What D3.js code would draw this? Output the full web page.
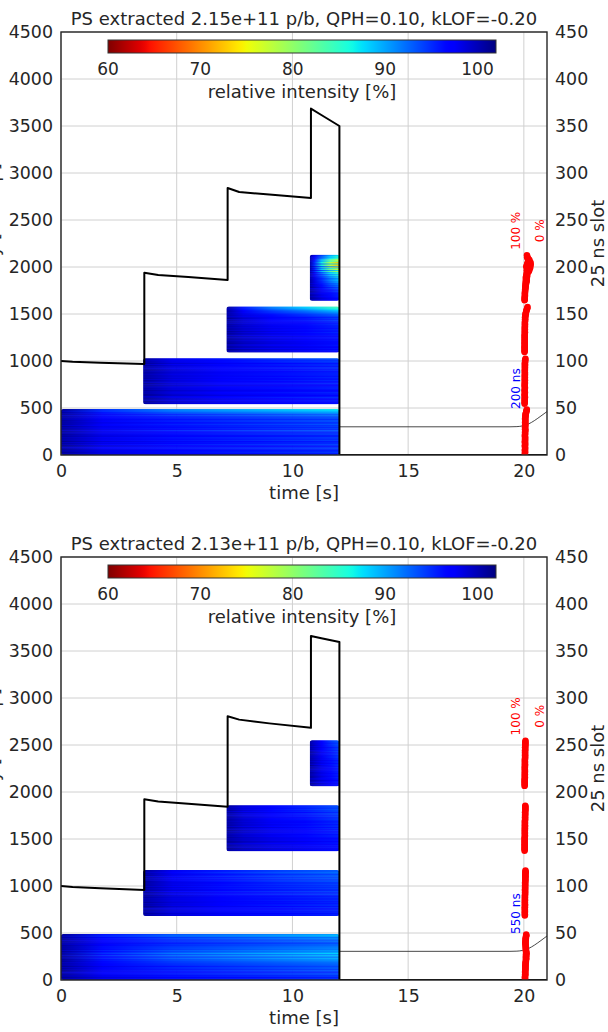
<!DOCTYPE html>
<html>
<head>
<meta charset="utf-8">
<script src="https://cdn.jsdelivr.net/npm/d3@7"></script>
<style>
  body { margin: 0; background: #fff; }
  text { font-family: "DejaVu Sans", sans-serif; fill: #262626; }
</style>
</head>
<body>
<svg id="fig" width="608" height="1032"></svg>
<script>
// ---- tick labels ----
const timeTicks = [0, 5, 10, 15, 20];
const intensityTicks = [0, 500, 1000, 1500, 2000, 2500, 3000, 3500, 4000, 4500];
const slotTicks = [0, 50, 100, 150, 200, 250, 300, 350, 400, 450];
const colorTicks = [60, 70, 80, 90, 100];

// ---- titles / annotations ----
const titles = [
  "PS extracted 2.15e+11 p/b, QPH=0.10, kLOF=-0.20",
  "PS extracted 2.13e+11 p/b, QPH=0.10, kLOF=-0.20"
];
const gapLabels = ["200 ns", "550 ns"];

// ---- batch timing (s) ----
const batchStartTime = [0, 3.55, 7.15, 10.75];
const extractionTime = 12.03;
// loss profile of each batch: fraction of the final loss reached at each time knot
const profileKnots = [0, 0.15, 0.4, 0.7, 1];
const batchLossProfile = [
  [0, 0.45, 0.7, 0.85, 1],
  [0, 0.4, 0.65, 0.85, 1],
  [0, 0.3, 0.55, 0.75, 1],
  [0, 0.2, 0.5, 0.8, 1]
];
// bunch-to-bunch spread at injection (%)
const rowTexture = [0.8,-0.5,0.3,1.1,-0.9,0.2,0.6,-0.3,-1.1,0.5,
  0.9,-0.2,0.4,-0.8,1.0,0.1,-0.6,0.7,-1.0,0.3,
  0.6,-0.4,1.2,-0.7,0.0,0.8,-0.9,0.4,0.2,-0.5,
  1.0,-1.1,0.5,-0.2,0.7,-0.6,0.9,0.1,-0.8,0.3,
  -0.3,0.6,-1.0,0.8,-0.1,0.4,-0.7,0.2,0.5];
const injectionLevel = 100.6;

// ---- first 25 ns slot of each batch ----
const topFirstSlot = [0, 54, 109, 164];
const botFirstSlot = [0, 68, 137, 206];

// ---- relative intensity at extraction per bunch (%) ----
const topB1 = [95,96,95,94,96,95,95,94,95,96, 95,94,95,95,96,94,95,95,94,95,
  96,95,94,95,95,94,93,95,94,95, 94,95,93,94,95,94,93,94,95,93,
  94,93,92,93,91,90,89,88,87];
const topB2 = [97,96,97,96,96,97,96,95,96,97, 96,96,95,96,97,96,96,95,96,96,
  97,96,95,96,96,95,96,96,95,96, 96,95,96,95,96,96,95,96,95,95,
  96,95,95,96,95,94,95,94,93];
const topB3 = [97,97,96,97,96,97,97,96,96,97, 96,97,96,96,97,96,96,97,96,96,
  96,95,96,96,95,96,96,95,96,95, 95,96,95,95,94,95,94,95,94,93,
  93,92,91,90,89,88,86,85,84];
const topB4 = [97,96,97,96,96,95,96,95,96,95, 94,95,94,93,94,92,93,91,
  93,89,92,87,91,88,92,86,90,85,89,84,86,
  78,88,75,84,72,90,74,70,86,71,73,82,76,
  80,84,86,85,87];
const botB1 = [95,94,96,95,94,95,93,94,95,94, 93,94,93,93,94,93,93,92,93,91,
  92,90,91,89,92,90,89,91,88,90, 91,90,92,91,92,91,93,92,93,94,
  93,92,93,92,91,92,90,89,90];
const botB2 = [96,95,96,96,95,96,95,96,96,95, 96,95,95,96,95,96,95,95,96,95,
  95,96,95,94,95,95,94,95,95,94, 95,94,95,94,94,95,94,93,94,94,
  93,94,93,93,94,93,92,93,93];
const botB3 = [97,96,97,97,96,97,96,97,96,96, 97,96,96,97,96,96,95,96,96,95,
  96,96,95,96,95,96,95,95,96,95, 95,96,95,95,94,95,95,94,95,94,
  94,95,94,94,93,94,94,93,94];
const botB4 = [97,96,96,97,96,96,97,96,96,95, 96,96,95,96,96,95,96,95,96,96,
  95,96,95,95,96,95,95,96,95,95, 95,94,95,95,94,95,95,94,95,94,
  94,95,94,94,93,94,94,93,93];

// ---- total intensity [1e10 p] vs time ----
const lineTime = [0, 0.5, 1.7, 3.6, 3.6, 4.2, 5.5, 7.2, 7.2, 7.7, 9.0, 10.8, 10.8, 11.25, 12.03, 12.03, 21];
const topLineValue = [1000, 992, 982, 968, 1940, 1915, 1893, 1862, 2840, 2798, 2770, 2734, 3685, 3617, 3500, 0, 0];
const botLineValue = [1000, 990, 975, 957, 1922, 1900, 1875, 1843, 2805, 2770, 2730, 2683, 3660, 3635, 3596, 0, 0];

// ---- thin trace after extraction ----
const thinTime = [12.03, 19.4, 19.7, 19.95, 20.2, 20.45, 20.7, 21.0];
const topThinValue = [300, 300, 302, 310, 330, 365, 408, 462];
const botThinValue = [305, 305, 307, 315, 335, 370, 413, 468];

const panels = [
  { top: 32, bottom: 455, title: titles[0], gap: gapLabels[0], first: topFirstSlot,
    rows: [topB1, topB2, topB3, topB4], line: topLineValue, thin: topThinValue },
  { top: 557, bottom: 980, title: titles[1], gap: gapLabels[1], first: botFirstSlot,
    rows: [botB1, botB2, botB3, botB4], line: botLineValue, thin: botThinValue }
];

// ---- jet colormap (reversed: 60 % red, 102 % navy) ----
const jetR = d3.scaleLinear().domain([0, 0.35, 0.66, 0.89, 1]).range([0, 0, 1, 1, 0.5]).clamp(true);
const jetG = d3.scaleLinear().domain([0, 0.125, 0.375, 0.64, 0.91, 1]).range([0, 0, 1, 1, 0, 0]).clamp(true);
const jetB = d3.scaleLinear().domain([0, 0.11, 0.34, 0.65, 1]).range([0.5, 1, 1, 0, 0]).clamp(true);
const cDomain = [60, 102];
const cNorm = d3.scaleLinear().domain(cDomain).range([1, 0]).clamp(true);
function colorOf(v) {
  const t = cNorm(v);
  return d3.rgb(jetR(t) * 255, jetG(t) * 255, jetB(t) * 255).formatHex();
}

const svg = d3.select("#fig");
const defs = svg.append("defs");
const x = d3.scaleLinear().domain([0, 21]).range([61, 547]);
const FS = 17.4;

panels.forEach((p, pi) => {
  const y = d3.scaleLinear().domain([0, 4500]).range([p.bottom, p.top]);
  const ys = d3.scaleLinear().domain([0, 450]).range([p.bottom, p.top]);
  const g = svg.append("g");
  const cx = (x.range()[0] + x.range()[1]) / 2;

  // clip for plot area
  defs.append("clipPath").attr("id", "plot" + pi).append("rect")
    .attr("x", x(0)).attr("y", p.top).attr("width", x(21) - x(0)).attr("height", p.bottom - p.top);

  // grid
  const grid = g.append("g").attr("stroke", "#d0d0d0").attr("stroke-width", 1);
  timeTicks.forEach(t => grid.append("line").attr("x1", x(t)).attr("x2", x(t)).attr("y1", p.top).attr("y2", p.bottom));
  intensityTicks.forEach(v => grid.append("line").attr("x1", x(0)).attr("x2", x(21)).attr("y1", y(v)).attr("y2", y(v)));

  // bunch-by-bunch heat map
  p.rows.forEach((rowEnd, b) => {
    const t0 = batchStartTime[b], t1 = extractionTime;
    const s0 = p.first[b], n = rowEnd.length;
    const cid = `hm${pi}_${b}`;
    defs.append("clipPath").attr("id", cid).append("rect")
      .attr("x", x(t0)).attr("y", y((s0 + n) * 10))
      .attr("width", x(t1) - x(t0)).attr("height", y(s0 * 10) - y((s0 + n) * 10))
      .attr("rx", 2.5);
    const hb = g.append("g").attr("clip-path", `url(#${cid})`);
    rowEnd.forEach((vEnd, r) => {
      const gid = `gr${pi}_${b}_${r}`;
      const vStart = injectionLevel + rowTexture[r];
      const grad = defs.append("linearGradient").attr("id", gid)
        .attr("gradientUnits", "userSpaceOnUse")
        .attr("x1", x(t0)).attr("x2", x(t1)).attr("y1", 0).attr("y2", 0);
      profileKnots.forEach((k, ki) => {
        const v = vStart + (vEnd - vStart) * batchLossProfile[b][ki];
        grad.append("stop").attr("offset", k).attr("stop-color", colorOf(v));
      });
      const s = s0 + r;
      hb.append("rect")
        .attr("x", x(t0)).attr("width", x(t1) - x(t0))
        .attr("y", y((s + 1) * 10) - 0.3)
        .attr("height", y(s * 10) - y((s + 1) * 10) + 0.6)
        .attr("fill", `url(#${gid})`);
    });
  });

  const clipped = g.append("g").attr("clip-path", `url(#plot${pi})`);

  // thin trace
  clipped.append("path")
    .datum(thinTime.map((t, i) => [t, p.thin[i]]))
    .attr("fill", "none").attr("stroke", "#333").attr("stroke-width", 0.9)
    .attr("d", d3.line().x(d => x(d[0])).y(d => y(d[1])).curve(d3.curveMonotoneX));

  // total intensity
  clipped.append("path")
    .datum(lineTime.map((t, i) => [t, p.line[i]]))
    .attr("fill", "none").attr("stroke", "#000").attr("stroke-width", 2)
    .attr("stroke-linejoin", "round")
    .attr("d", d3.line().x(d => x(d[0])).y(d => y(d[1])));

  // extracted bunch intensities (100 % at t=20, 0 % at t=21)
  const dotX = v => x(20 + (100 - v) / 100);
  p.rows.forEach((rowEnd, b) => {
    rowEnd.forEach((v, r) => {
      clipped.append("circle")
        .attr("cx", dotX(v)).attr("cy", ys(p.first[b] + r + 0.5))
        .attr("r", 3.2).attr("fill", "#ff0000");
    });
  });

  // annotations
  const maxEdge = d3.max(p.rows.map((rw, b) => (p.first[b] + rw.length) * 10));
  const labY = y(maxEdge + 255);
  g.append("text").attr("transform", `translate(${x(20) - 3.5},${labY}) rotate(-90)`)
    .attr("text-anchor", "middle").style("font-size", "12px").style("fill", "#ff0000").text("100 %");
  g.append("text").attr("transform", `translate(${x(21) - 3.5},${labY}) rotate(-90)`)
    .attr("text-anchor", "middle").style("font-size", "12px").style("fill", "#ff0000").text("0 %");
  const b1Top = (p.first[0] + p.rows[0].length) * 10;
  g.append("text").attr("transform", `translate(${x(20) - 3.5},${y(b1Top)}) rotate(-90)`)
    .attr("text-anchor", "start").style("font-size", "12px").style("fill", "#0000ff").text(p.gap);

  // colour bar
  const cb = d3.scaleLinear().domain(cDomain).range([108, 496]);
  const cbid = "cbar" + pi;
  const cg = defs.append("linearGradient").attr("id", cbid)
    .attr("gradientUnits", "userSpaceOnUse").attr("x1", cb(60)).attr("x2", cb(102)).attr("y1", 0).attr("y2", 0);
  d3.range(60, 102.01, 0.5).forEach(v => {
    cg.append("stop").attr("offset", (v - 60) / 42).attr("stop-color", colorOf(v));
  });
  g.append("rect").attr("x", cb(60)).attr("y", p.top + 8)
    .attr("width", cb(102) - cb(60)).attr("height", 13)
    .attr("fill", `url(#${cbid})`).attr("stroke", "#333").attr("stroke-width", 1);
  colorTicks.forEach(v => {
    g.append("text").attr("x", cb(v)).attr("y", p.top + 43).attr("text-anchor", "middle")
      .style("font-size", "17px").text(v);
  });
  g.append("text").attr("x", (cb(60) + cb(102)) / 2).attr("y", p.top + 66).attr("text-anchor", "middle")
    .style("font-size", "18px").text("relative intensity [%]");

  // frame
  g.append("rect").attr("x", x(0)).attr("y", p.top).attr("width", x(21) - x(0)).attr("height", p.bottom - p.top)
    .attr("fill", "none").attr("stroke", "#262626").attr("stroke-width", 1.4);

  // axes
  const styleAxis = sel => {
    sel.select(".domain").remove();
    sel.selectAll("text").style("font-size", FS + "px").style("font-family", '"DejaVu Sans", sans-serif').attr("fill", "#262626");
  };
  const fmt = d3.format("d");
  g.append("g").attr("transform", `translate(${x(0)},0)`)
    .call(d3.axisLeft(y).tickValues(intensityTicks).tickFormat(fmt).tickSize(0).tickPadding(8)).call(styleAxis);
  g.append("g").attr("transform", `translate(${x(21)},0)`)
    .call(d3.axisRight(ys).tickValues(slotTicks).tickFormat(fmt).tickSize(0).tickPadding(8)).call(styleAxis);
  g.append("g").attr("transform", `translate(0,${p.bottom})`)
    .call(d3.axisBottom(x).tickValues(timeTicks).tickFormat(fmt).tickSize(0).tickPadding(9.6)).call(styleAxis);

  // titles and axis labels
  g.append("text").attr("x", cx).attr("y", p.top - 7).attr("text-anchor", "middle")
    .style("font-size", "18px").text(p.title);
  g.append("text").attr("x", cx).attr("y", p.bottom + 44).attr("text-anchor", "middle")
    .style("font-size", "18px").text("time [s]");
  g.append("text").attr("transform", `translate(604,${(p.top + p.bottom) / 2}) rotate(-90)`)
    .attr("text-anchor", "middle").style("font-size", "18px").text("25 ns slot");
  g.append("text").attr("transform", `translate(-1,${(p.top + p.bottom) / 2}) rotate(-90)`)
    .attr("text-anchor", "middle").style("font-size", "18px").text("intensity [1e10 p]");
});
</script>
</body>
</html>
